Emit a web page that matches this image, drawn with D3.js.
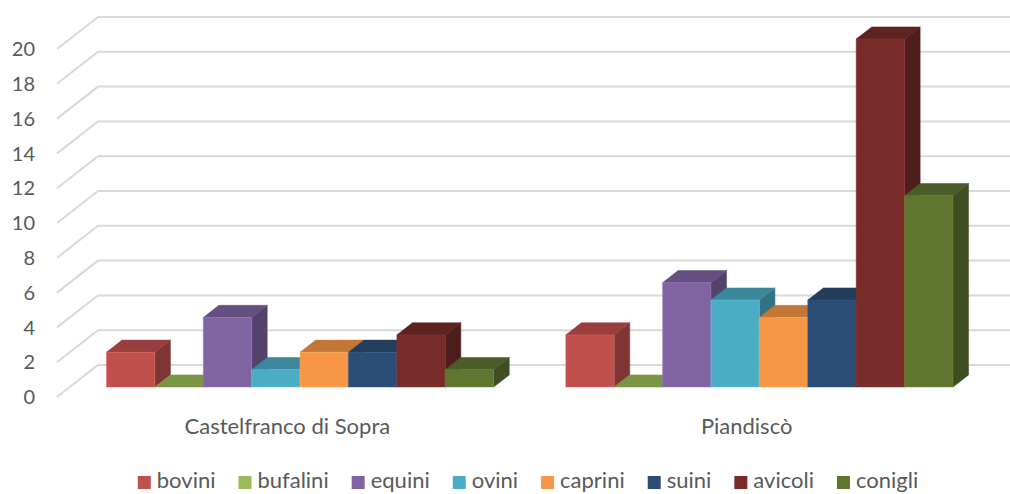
<!DOCTYPE html>
<html><head><meta charset="utf-8">
<script src="https://cdn.jsdelivr.net/npm/d3@7"></script>
<style>
html,body{margin:0;padding:0;background:#fff;}
svg{display:block;}
text{font-family:Lato,"Noto Sans",sans-serif;fill:#595959;}
</style></head>
<body>
<svg id="c" width="1010" height="494"></svg>
<script>
const categories = ["Castelfranco di Sopra", "Piandiscò"];
const series = ["bovini","bufalini","equini","ovini","caprini","suini","avicoli","conigli"];
const colors = ["#C0504D","#9BBB59","#8064A2","#4BACC6","#F79646","#2C4D75","#772C2A","#5F7530"];
const valuesCastelfranco = [2,0,4,1,2,2,3,1];
const valuesPiandisco   = [3,0,6,5,4,5,20,11];
const tickValues = [0,2,4,6,8,10,12,14,16,18,20];

const values = [valuesCastelfranco, valuesPiandisco];
const svg = d3.select("#c");
const W = 1010, H = 494;

// 3D projection parameters
const DX = 41, DY = 32;          // full depth offset (front -> back wall)
const zF = 0.31, zB = 0.69;      // bar depth extent
const left = 57, right = 977;

const y = d3.scaleLinear().domain([0,20]).range([397,49]);
const x0 = d3.scaleBand().domain(categories).range([left,right]).paddingInner(0.157).paddingOuter(0.08);
const x1 = d3.scaleBand().domain(series).range([0,x0.bandwidth()]);
const col = d3.scaleOrdinal().domain(series).range(colors);

const P = (X, Y, z) => [X + z*DX, Y - z*DY];
const pathOf = pts => "M" + pts.map(p => p[0].toFixed(2)+","+p[1].toFixed(2)).join("L") + "Z";
function shade(c, k){ const r = d3.rgb(c); return d3.rgb(r.r*k, r.g*k, r.b*k).formatHex(); }

// gridlines (side wall + back wall)
const grid = svg.append("g");
tickValues.forEach(v => {
  const a = P(left, y(v), 0), b = P(left, y(v), 1), c = [W+20, b[1]];
  grid.append("path")
    .attr("d", "M"+a+"L"+b+"L"+c)
    .attr("fill","none").attr("stroke","#d9d9d9").attr("stroke-width",2);
});

// y tick labels
svg.append("g").selectAll("text").data(tickValues).join("text")
  .attr("x", 35).attr("y", d => y(d)).attr("dy","0.36em")
  .attr("text-anchor","end").attr("font-size",20).text(d => d);

// bars
const bars = svg.append("g");
categories.forEach((cat, ci) => {
  series.forEach((s, si) => {
    const v = values[ci][si];
    const X = x0(cat) + x1(s), w = x1.bandwidth();
    const yt = y(v), yb = y(0);
    const c = col(s);
    const fTL = P(X, yt, zF), fTR = P(X+w, yt, zF), fBR = P(X+w, yb, zF), fBL = P(X, yb, zF);
    const bTL = P(X, yt, zB), bTR = P(X+w, yt, zB), bBR = P(X+w, yb, zB);
    const g = bars.append("g");
    // side
    g.append("path").attr("d", pathOf([fTR, bTR, bBR, fBR])).attr("fill", shade(c,0.66))
      .attr("stroke", shade(c,0.66)).attr("stroke-width",0.5);
    // top
    g.append("path").attr("d", pathOf([fTL, fTR, bTR, bTL])).attr("fill", shade(c,0.79))
      .attr("stroke", shade(c,0.79)).attr("stroke-width",0.5);
    // front
    if (v > 0) {
      g.append("path").attr("d", pathOf([fTL, fTR, fBR, fBL])).attr("fill", c)
        .attr("stroke", d3.rgb(c).brighter(0.6)).attr("stroke-opacity",0.45).attr("stroke-width",1);
    }
  });
});

// category labels
svg.append("g").selectAll("text").data(categories).join("text")
  .attr("x", d => x0(d) + x0.bandwidth()/2).attr("y", 434)
  .attr("text-anchor","middle").attr("font-size",22).text(d => d);

// legend
const lg = svg.append("g");
const items = lg.selectAll("g").data(series).join("g");
items.append("rect").attr("width",13).attr("height",13).attr("y",476).attr("fill", d => col(d));
items.append("text").attr("x",19).attr("y",488).attr("font-size",22).text(d => d);
let cx = 0; const pos = [];
items.each(function(d){
  const tw = d3.select(this).select("text").node().getComputedTextLength();
  pos.push(cx); cx += 19 + tw + 23;
});
const total = cx - 23;
const start = 528 - total/2;
items.attr("transform", (d,i) => `translate(${start+pos[i]},0)`);
</script>
</body></html>
